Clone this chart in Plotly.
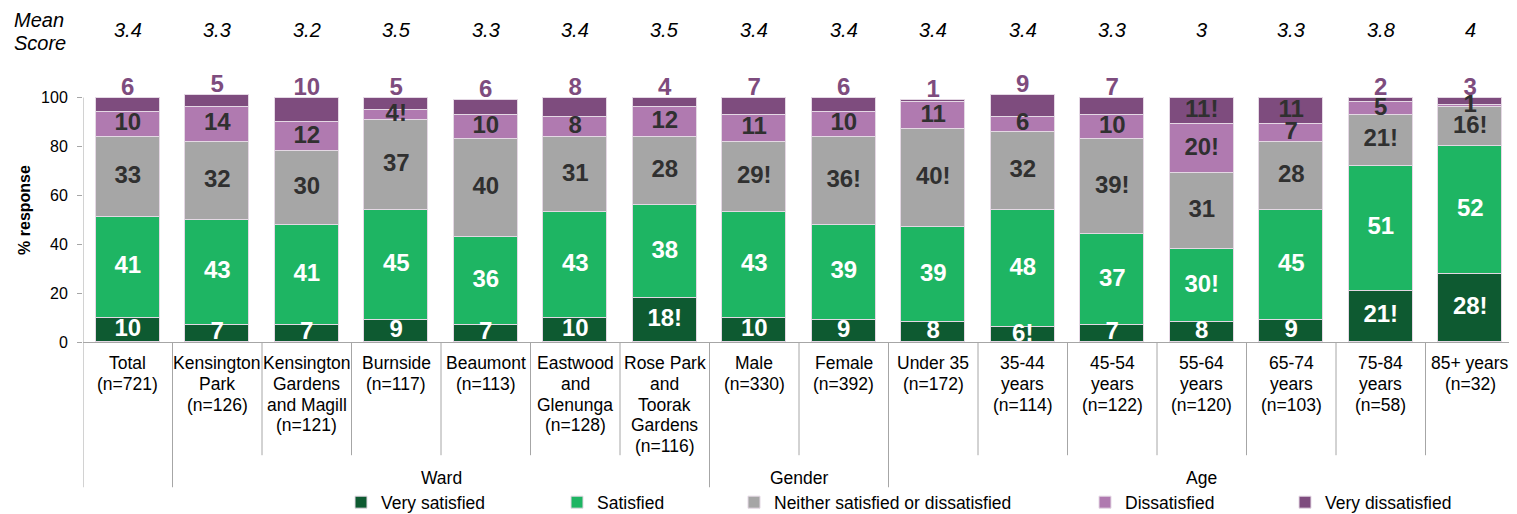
import plotly.graph_objects as go

# ---------------- data ----------------
categories = [
    "Total<br>(n=721)",
    "Kensington<br>Park<br>(n=126)",
    "Kensington<br>Gardens<br>and Magill<br>(n=121)",
    "Burnside<br>(n=117)",
    "Beaumont<br>(n=113)",
    "Eastwood<br>and<br>Glenunga<br>(n=128)",
    "Rose Park<br>and<br>Toorak<br>Gardens<br>(n=116)",
    "Male<br>(n=330)",
    "Female<br>(n=392)",
    "Under 35<br>(n=172)",
    "35-44<br>years<br>(n=114)",
    "45-54<br>years<br>(n=122)",
    "55-64<br>years<br>(n=120)",
    "65-74<br>years<br>(n=103)",
    "75-84<br>years<br>(n=58)",
    "85+ years<br>(n=32)",
]
group_names = ["Ward", "Gender", "Age"]
group_first = [1, 7, 9]
group_last = [6, 8, 15]

mean_scores = [3.4, 3.3, 3.2, 3.5, 3.3, 3.4, 3.5, 3.4, 3.4, 3.4, 3.4, 3.3, 3.0, 3.3, 3.8, 4.0]

very_satisfied    = [10, 7, 7, 9, 7, 10, 18, 10, 9, 8, 6, 7, 8, 9, 21, 28]
satisfied         = [41, 43, 41, 45, 36, 43, 38, 43, 39, 39, 48, 37, 30, 45, 51, 52]
neither           = [33, 32, 30, 37, 40, 31, 28, 29, 36, 40, 32, 39, 31, 28, 21, 16]
dissatisfied      = [10, 14, 12, 4, 10, 8, 12, 11, 10, 11, 6, 10, 20, 7, 5, 1]
very_dissatisfied = [6, 5, 10, 5, 6, 8, 4, 7, 6, 1, 9, 7, 11, 11, 2, 3]

# "!" significance markers shown next to the values
very_satisfied_flag    = [0, 0, 0, 0, 0, 0, 1, 0, 0, 0, 1, 0, 0, 0, 1, 1]
satisfied_flag         = [0, 0, 0, 0, 0, 0, 0, 0, 0, 0, 0, 0, 1, 0, 0, 0]
neither_flag           = [0, 0, 0, 0, 0, 0, 0, 1, 1, 1, 0, 1, 0, 0, 1, 1]
dissatisfied_flag      = [0, 0, 0, 1, 0, 0, 0, 0, 0, 0, 0, 0, 1, 0, 0, 0]
very_dissatisfied_flag = [0, 0, 0, 0, 0, 0, 0, 0, 0, 0, 0, 0, 1, 0, 0, 0]

series_names = ["Very satisfied", "Satisfied", "Neither satisfied or dissatisfied",
                "Dissatisfied", "Very dissatisfied"]

# ---------------- style / layout ----------------
colors = ["#0E5A31", "#1EB563", "#A6A6A6", "#B07AB0", "#7E4C7E"]
label_colors = ["#FFFFFF", "#FFFFFF", "#303030", "#303030", "#7E4C7E"]
vd_label_inside = [0, 0, 0, 0, 0, 0, 0, 0, 0, 0, 0, 0, 1, 1, 0, 0]

OFF = 8  # page body margin: the figure is drawn 8px right/down in the window
def fx(p):  # window pixel column -> figure pixel column
    return p - OFF
def fy(p):  # window pixel row -> figure pixel row
    return p - OFF

legend_text_px = [378, 594, 771, 1122, 1322]

W, H = 1517 - OFF, 514 - OFF
ML = fx(83)
MR = W - fx(1515)
AX_Y = fy(342)  # figure row of y = 0
MB = H - AX_Y
PX_PER_UNIT = 2.44
YMAX = 108.0
PH = YMAX * PX_PER_UNIT
MT = AX_Y - PH
PW = W - ML - MR
BASE = "Liberation Sans, Arial, sans-serif"
GRAY = "#A6A6A6"

series = [very_satisfied, satisfied, neither, dissatisfied, very_dissatisfied]
flags = [very_satisfied_flag, satisfied_flag, neither_flag, dissatisfied_flag,
         very_dissatisfied_flag]
n = len(categories)
xs = list(range(n))

fig = go.Figure()
legend_ids = ["legend", "legend2", "legend3", "legend4", "legend5"]
for k, (name, vals) in enumerate(zip(series_names, series)):
    fig.add_trace(go.Bar(
        x=xs, y=vals, name=name, width=0.718,
        marker=dict(color=colors[k], line=dict(color="#E4D8E4", width=1)),
        legend=legend_ids[k], hoverinfo="skip",
    ))

# value labels
cum = [0] * n
for k, vals in enumerate(series):
    ys, txt, cols = [], [], []
    for i in range(n):
        lo = cum[i]
        hi = cum[i] + vals[i]
        t = f"{vals[i]}" + ("!" if flags[k][i] else "")
        if k == 4 and not vd_label_inside[i]:
            ys.append(hi + 3.6)
            cols.append(label_colors[4])
        else:
            ys.append((lo + hi) / 2)
            cols.append(label_colors[k] if k < 4 else "#303030")
        txt.append(t)
    cum = [cum[i] + vals[i] for i in range(n)]
    fig.add_trace(go.Scatter(
        x=xs, y=ys, text=txt, mode="text", textposition="middle center",
        textfont=dict(family=BASE, size=24, color=cols, weight="bold"),
        showlegend=False, hoverinfo="skip", cliponaxis=False,
    ))

# mean score row
fig.add_annotation(xref="paper", x=(fx(13) - ML) / PW, xanchor="left", yref="paper", y=1,
                   yshift=MT, yanchor="top", borderpad=0, showarrow=False,
                   text="<i>Mean</i>", font=dict(family=BASE, size=20, color="#000"))
fig.add_annotation(xref="paper", x=(fx(13) - ML) / PW, xanchor="left", yref="paper", y=1,
                   yshift=MT - fy(43), yanchor="middle", borderpad=0, showarrow=False,
                   text="<i>Score</i>", font=dict(family=BASE, size=20, color="#000"))
for i, m in enumerate(mean_scores):
    fig.add_annotation(x=i, xref="x", yref="paper", y=1, yshift=MT - fy(30), yanchor="middle",
                       showarrow=False, text=f"<i>{m:g}</i>",
                       font=dict(family=BASE, size=20, color="#000"))

# category labels, one annotation per line
for i, lab in enumerate(categories):
    for j, line in enumerate(lab.split("<br>")):
        fig.add_annotation(x=i, xref="x", yref="paper", y=0, yanchor="middle",
                           yshift=-(fy(363) - AX_Y) - 20.8 * j, showarrow=False,
                           text=line, font=dict(family=BASE, size=17.5, color="#000"))

# group labels
for g, a, b in zip(group_names, group_first, group_last):
    fig.add_annotation(x=(a + b) / 2, xref="x", yref="paper", y=0, yanchor="middle",
                       yshift=-(fy(478) - AX_Y), showarrow=False, text=g,
                       font=dict(family=BASE, size=17.5, color="#000"))

# separators
short_bottom = -(fy(455) - AX_Y) / PH
long_bottom = -(fy(487) - AX_Y) / PH
group_edges = [-0.5] + [a - 0.5 for a in group_first] + [n - 0.5]
for e in [i - 0.5 for i in range(n + 1)]:
    fig.add_shape(type="line", xref="x", yref="paper", x0=e, x1=e, y0=0,
                  y1=long_bottom if e in group_edges else short_bottom,
                  line=dict(color=GRAY, width=1))
# y axis line 0-100
fig.add_shape(type="line", xref="x", yref="y", x0=-0.5, x1=-0.5, y0=0, y1=100,
              line=dict(color=GRAY, width=1))

layout_legends = {}
for k, lid in enumerate(legend_ids):
    layout_legends[lid] = dict(
        x=(fx(legend_text_px[k]) - 37 - ML) / PW, xanchor="left",
        y=-(fy(502) - AX_Y) / PH, yanchor="middle", orientation="h",
        bgcolor="rgba(0,0,0,0)", font=dict(family=BASE, size=17.5, color="#000"),
    )

fig.update_layout(
    width=W, height=H, margin=dict(l=ML, r=MR, t=MT, b=MB, autoexpand=False),
    barmode="stack", bargap=0, plot_bgcolor="#fff", paper_bgcolor="#fff",
    font=dict(family=BASE, color="#000"),
    xaxis=dict(range=[-0.5, n - 0.5], showticklabels=False, showgrid=False, zeroline=False,
               showline=True, linecolor=GRAY, linewidth=1, ticks="", automargin=False),
    yaxis=dict(range=[0, YMAX], tickvals=[0, 20, 40, 60, 80, 100], ticks="outside", ticklen=5,
               tickcolor=GRAY, showline=False, showgrid=False, zeroline=False,
               ticklabelstandoff=6, automargin=False,
               tickfont=dict(family=BASE, size=16, color="#000"),
               title=dict(text="<b>% response</b>", font=dict(family=BASE, size=16, color="#000"),
                          standoff=6)),
    **layout_legends,
)

fig.write_html("out.html")
